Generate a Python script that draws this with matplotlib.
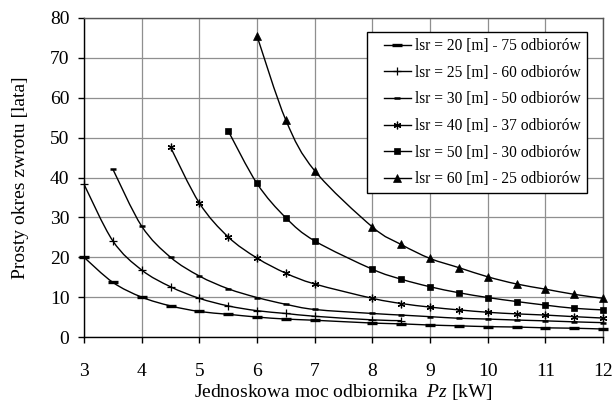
import numpy as np
import matplotlib
matplotlib.use('Agg')
import matplotlib.pyplot as plt
from matplotlib.path import Path
from matplotlib.patches import PathPatch
from matplotlib.lines import Line2D
from matplotlib.legend_handler import HandlerLine2D

plt.rcParams['font.family'] = ['Liberation Serif', 'DejaVu Serif']
plt.rcParams['mathtext.fontset'] = 'custom'
plt.rcParams['mathtext.rm'] = 'Liberation Serif'
plt.rcParams['mathtext.it'] = 'Liberation Serif:italic'

# moc odbiornika [kW] / okres zwrotu [lata]
p_20 = [3, 3.5, 4, 4.5, 5, 5.5, 6, 6.5, 7, 8, 8.5, 9, 9.5, 10, 10.5, 11, 11.5, 12]
t_20 = [20, 13.7, 10, 7.8, 6.4, 5.7, 5.0, 4.5, 4.2, 3.5, 3.3, 3.0, 2.8, 2.6, 2.5, 2.3, 2.2, 2.0]

p_25 = [3, 3.5, 4, 4.5, 5, 5.5, 6, 6.5, 7, 8, 8.5]
t_25 = [38.3, 24.1, 16.8, 12.6, 9.7, 7.8, 6.6, 5.9, 5.2, 4.3, 4.1]

p_30 = [3.5, 4, 4.5, 5, 5.5, 6, 6.5, 7, 8, 8.5, 9, 9.5, 10, 10.5, 11, 11.5, 12]
t_30 = [42.1, 27.8, 20.0, 15.3, 12.1, 9.9, 8.2, 6.9, 5.9, 5.5, 5.1, 4.7, 4.5, 4.25, 4.05, 3.8, 3.6]

p_40 = [4.5, 5, 5.5, 6, 6.5, 7, 8, 8.5, 9, 9.5, 10, 10.5, 11, 11.5, 12]
t_40 = [47.6, 33.6, 25.1, 19.8, 16.0, 13.3, 9.7, 8.4, 7.5, 6.8, 6.2, 5.8, 5.5, 5.1, 4.75]

p_50 = [5.5, 6, 6.5, 7, 8, 8.5, 9, 9.5, 10, 10.5, 11, 11.5, 12]
t_50 = [51.7, 38.5, 29.9, 24.1, 17.0, 14.5, 12.6, 11.1, 9.9, 8.9, 8.0, 7.2, 6.8]

p_60 = [6, 6.5, 7, 8, 8.5, 9, 9.5, 10, 10.5, 11, 11.5, 12]
t_60 = [75.5, 54.4, 41.7, 27.6, 23.2, 19.7, 17.4, 15.1, 13.3, 12.0, 10.7, 9.7]

labels = ['lsr = 20 [m] - 75 odbiorów',
          'lsr = 25 [m] - 60 odbiorów',
          'lsr = 30 [m] - 50 odbiorów',
          'lsr = 40 [m] - 37 odbiorów',
          'lsr = 50 [m] - 30 odbiorów',
          'lsr = 60 [m] - 25 odbiorów']

series = [(p_20, t_20), (p_25, t_25), (p_30, t_30),
          (p_40, t_40), (p_50, t_50), (p_60, t_60)]

markers = [dict(marker='_', markersize=7, markeredgewidth=2.4),
           dict(marker='+', markersize=6, markeredgewidth=0.9),
           dict(marker='_', markersize=5, markeredgewidth=1.8),
           dict(marker=(6, 2, 0), markersize=5.5, markeredgewidth=0.9),
           dict(marker='s', markersize=5, markeredgewidth=0.5),
           dict(marker='^', markersize=6, markeredgewidth=0.5)]


def smooth_path(x, y):
    # excel-like smoothed line: cubic bezier through the points
    pts = np.column_stack([x, y]).astype(float)
    n = len(pts)
    verts = [pts[0]]
    codes = [Path.MOVETO]
    for i in range(n - 1):
        p0 = pts[i - 1] if i > 0 else pts[i]
        p1 = pts[i]
        p2 = pts[i + 1]
        p3 = pts[i + 2] if i + 2 < n else pts[i + 1]
        verts += [p1 + (p2 - p0) / 6.0, p2 - (p3 - p1) / 6.0, p2]
        codes += [Path.CURVE4] * 3
    return Path(verts, codes)


class PadHandler(HandlerLine2D):
    def __init__(self, lead, **kw):
        super().__init__(**kw)
        self.lead = lead

    def get_xdata(self, legend, xdescent, ydescent, width, height, fontsize):
        x0 = -xdescent + self.lead * fontsize
        x1 = -xdescent + width
        return np.array([x0, x1]), np.array([(x0 + x1) / 2.0])


fig = plt.figure(figsize=(6.14, 4.05), dpi=100)
ax = fig.add_axes([84 / 614, 1 - 337 / 405, 519 / 614, 319 / 405])

handles = []
for (x, y), m, lab in zip(series, markers, labels):
    ax.add_patch(PathPatch(smooth_path(x, y), facecolor='none',
                           edgecolor='black', lw=1.0, zorder=3))
    ax.plot(x, y, linestyle='none', color='black', clip_on=False, zorder=4, **m)
    handles.append(Line2D([], [], color='black', lw=1.0, **m))

ax.set_xlim(3, 12)
ax.set_ylim(0, 80)
ax.set_xticks(np.arange(3, 13, 1))
ax.set_yticks(np.arange(0, 81, 10))
ax.grid(True, color='#8f8f8f', lw=0.9)
ax.set_axisbelow(True)
for s in ax.spines.values():
    s.set_linewidth(1.0)
    s.set_color('black')
ax.spines['top'].set_color('#555555')
ax.spines['right'].set_color('#555555')

ax.tick_params(axis='x', direction='out', length=4.5, width=1, labelsize=14, pad=14)
ax.tick_params(axis='y', direction='out', length=4.5, width=1, labelsize=14, pad=6)

ax.set_xlabel('Jednoskowa moc odbiornika  $Pz$ [kW]', fontsize=14, labelpad=2)
ax.set_ylabel('Prosty okres zwrotu [lata]', fontsize=14, labelpad=15)

leg = ax.legend(handles, labels, loc='upper left',
                bbox_to_anchor=(367 / 614, 1 - 32 / 405),
                bbox_transform=fig.transFigure, borderaxespad=0,
                fontsize=11.2, frameon=True, fancybox=False,
                edgecolor='black', framealpha=1, numpoints=1,
                handlelength=2.4, handletextpad=0.3, labelspacing=0.68,
                borderpad=0.4,
                handler_map={h: PadHandler(0.7) for h in handles})
leg.get_frame().set_linewidth(1.0)
leg.set_zorder(5)

fig.savefig('out.png', dpi=100)
